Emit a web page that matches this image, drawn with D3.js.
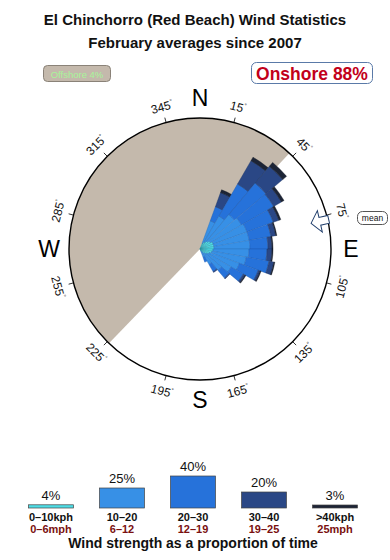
<!DOCTYPE html>
<html>
<head>
<meta charset="utf-8">
<script src="https://cdn.jsdelivr.net/npm/d3@7"></script>
<style>
  body { margin: 0; background: #fff; }
  svg { display: block; font-family: "Liberation Sans", Arial, Helvetica, sans-serif; }
</style>
</head>
<body>
<div id="chart"></div>
<script>
// ===== DATA =====
// direction bins (start bearing, 10 degrees wide)
const dirStarts = [20, 30, 40, 50, 60, 70, 80, 90, 100, 110, 120, 130, 140, 150];
// per-bin share for each speed class (radial units)
const kph0_10  = [0.6, 0.8, 1.0, 1.2, 1.4, 1.4, 1.4, 1.3, 1.2, 1.0, 0.8, 0.6, 0.4, 0.2];
const kph10_20 = [2.4, 3.0, 3.5, 3.6, 3.6, 3.6, 3.6, 3.6, 3.5, 3.2, 2.8, 2.2, 1.4, 0.7];
const kph20_30 = [1.5, 3.7, 4.1, 3.7, 2.8, 2.2, 1.8, 1.8, 2.3, 2.0, 1.4, 1.0, 0.8, 0.5];
const kph30_40 = [1.5, 2.7, 2.2, 0.9, 0.6, 0.5, 0.4, 0.5, 0.5, 0.2, 0.2, 0.1, 0.1, 0.0];
const kph40up  = [0.3, 0.4, 0.5, 0.3, 0.2, 0.1, 0.1, 0.1, 0.1, 0.1, 0.1, 0.0, 0.0, 0.0];
const speedSeries = [kph0_10, kph10_20, kph20_30, kph30_40, kph40up];

const kphLabels = ['0–10kph', '10–20', '20–30', '30–40', '>40kph'];
const mphLabels = ['0–6mph', '6–12', '12–19', '19–25', '25mph'];
const classShares = [4, 25, 40, 20, 3];
const classColors = ['#4fdde6', '#3790e6', '#2672da', '#2a4785', '#1c2436'];
const classStroke = ['#2a8a9a', '#2a70b8', '#1d58ad', '#1d3463', '#10151f'];

const tickAngles = [15, 45, 75, 105, 135, 165, 195, 225, 255, 285, 315, 345];
const compassLabels = ['N', 'E', 'S', 'W'];
const compassAngles = [0, 90, 180, 270];

const offshoreFrom = 224;   // bearing, clockwise to offshoreTo
const offshoreTo = 403;
const meanBearing = 77;
const offshorePct = 4;
const onshorePct = 88;

// ===== LAYOUT =====
const W = 390, H = 560;
const cx = 200, cy = 249, R = 131;
const rad = d => d * Math.PI / 180;

const svg = d3.select('#chart').append('svg')
  .attr('width', W).attr('height', H);
svg.append('rect').attr('width', W).attr('height', H).attr('fill', '#fff');

// titles
svg.append('text').attr('x', 195).attr('y', 25).attr('text-anchor', 'middle')
  .attr('font-size', 15).attr('font-weight', 700).attr('fill', '#111')
  .text('El Chinchorro (Red Beach) Wind Statistics');
svg.append('text').attr('x', 195).attr('y', 48).attr('text-anchor', 'middle')
  .attr('font-size', 15).attr('font-weight', 700).attr('fill', '#111')
  .text('February averages since 2007');

// offshore / onshore badges
svg.append('rect').attr('x', 43.5).attr('y', 65.5).attr('width', 67).attr('height', 16)
  .attr('rx', 4).attr('fill', '#c4b9ac').attr('stroke', '#8a8278');
svg.append('text').attr('x', 77).attr('y', 77.5).attr('text-anchor', 'middle')
  .attr('font-size', 9.5).attr('fill', '#a8f59a').text(`Offshore ${offshorePct}%`);

svg.append('rect').attr('x', 251.5).attr('y', 62.5).attr('width', 121).attr('height', 21)
  .attr('rx', 5).attr('fill', '#fff').attr('stroke', '#5a7aa8');
svg.append('text').attr('x', 312).attr('y', 80).attr('text-anchor', 'middle')
  .attr('font-size', 17.5).attr('font-weight', 700).attr('fill', '#c2001a')
  .text(`Onshore ${onshorePct}%`);

// ===== ROSE =====
const g = svg.append('g').attr('transform', `translate(${cx},${cy})`);

// offshore sector
g.append('path')
  .attr('d', d3.arc()({ innerRadius: 0, outerRadius: R,
    startAngle: rad(offshoreFrom), endAngle: rad(offshoreTo) }))
  .attr('fill', '#c4b9ac');

const rScale = d3.scaleLinear().domain([0, 13.1]).range([0, R]);
const arc = d3.arc();

const segments = [];
dirStarts.forEach((d, i) => {
  let cum = 0;
  speedSeries.forEach((s, k) => {
    const v = s[i];
    if (v > 0) segments.push({ dir: d, k, from: cum, to: cum + v });
    cum += v;
  });
});

g.append('g').selectAll('path')
  .data(segments)
  .join('path')
  .attr('d', d => arc({
    innerRadius: rScale(d.from), outerRadius: rScale(d.to),
    startAngle: rad(d.dir), endAngle: rad(d.dir + 10)
  }))
  .attr('fill', d => classColors[d.k])
  .attr('stroke', d => classStroke[d.k])
  .attr('stroke-width', 0.4);

// outer circle
g.append('circle').attr('r', R).attr('fill', 'none')
  .attr('stroke', '#000').attr('stroke-width', 1.4);

// ticks + degree labels
g.selectAll('line.tick')
  .data(tickAngles)
  .join('line')
  .attr('class', 'tick')
  .attr('x1', a => R * Math.sin(rad(a))).attr('y1', a => -R * Math.cos(rad(a)))
  .attr('x2', a => (R + 5) * Math.sin(rad(a))).attr('y2', a => -(R + 5) * Math.cos(rad(a)))
  .attr('stroke', '#000').attr('stroke-width', 0.8);

const rotFor = a => a <= 90 ? a : (a < 270 ? a - 180 : a - 360);
const lbl = g.selectAll('text.deg')
  .data(tickAngles)
  .join('text')
  .attr('class', 'deg')
  .attr('transform', a => `translate(${147 * Math.sin(rad(a))},${-147 * Math.cos(rad(a))}) rotate(${rotFor(a)})`)
  .attr('text-anchor', 'middle')
  .attr('dy', '0.35em')
  .attr('font-size', 12)
  .attr('fill', '#111');
lbl.append('tspan').text(a => a);
lbl.append('tspan').attr('font-size', 6).attr('dy', '-0.9em').text('°');

// compass letters
g.selectAll('text.cmp')
  .data(compassLabels)
  .join('text')
  .attr('class', 'cmp')
  .attr('x', (t, i) => 151 * Math.sin(rad(compassAngles[i])))
  .attr('y', (t, i) => -151 * Math.cos(rad(compassAngles[i])))
  .attr('dy', '0.36em')
  .attr('text-anchor', 'middle')
  .attr('font-size', 23)
  .attr('fill', '#000')
  .text(t => t);

// mean direction arrow (points toward centre)
const arrowPath = 'M0,-114 L-11,-123 L-4,-123 L-4,-132 L4,-132 L4,-123 L11,-123 Z';
g.append('path')
  .attr('d', arrowPath)
  .attr('transform', `rotate(${meanBearing})`)
  .attr('fill', '#fff').attr('stroke', '#1f3d6b').attr('stroke-width', 1);

svg.append('rect').attr('x', 357.5).attr('y', 211.5).attr('width', 30).attr('height', 13)
  .attr('rx', 5).attr('fill', '#fff').attr('stroke', '#555');
svg.append('text').attr('x', 372.5).attr('y', 221).attr('text-anchor', 'middle')
  .attr('font-size', 8.5).attr('fill', '#111').text('mean');

// ===== LEGEND =====
const legendX = d3.scalePoint().domain(kphLabels).range([51, 335]);
const barH = d3.scaleLinear().domain([0, 40]).range([0, 32]);
const baseY = 508, barW = 45;

const leg = svg.append('g').selectAll('g')
  .data(kphLabels)
  .join('g')
  .attr('transform', d => `translate(${legendX(d)},0)`);

leg.append('rect')
  .attr('x', -barW / 2)
  .attr('y', (d, i) => baseY - Math.max(barH(classShares[i]), 3))
  .attr('width', barW)
  .attr('height', (d, i) => Math.max(barH(classShares[i]), 3))
  .attr('fill', (d, i) => classColors[i])
  .attr('stroke', '#444').attr('stroke-width', 0.7);

leg.append('text')
  .attr('y', (d, i) => baseY - Math.max(barH(classShares[i]), 3) - 5)
  .attr('text-anchor', 'middle').attr('font-size', 13).attr('fill', '#111')
  .text((d, i) => classShares[i] + '%');

leg.append('text')
  .attr('y', 521).attr('text-anchor', 'middle')
  .attr('font-size', 11).attr('font-weight', 700).attr('fill', '#111')
  .text(d => d);

leg.append('text')
  .attr('y', 532.5).attr('text-anchor', 'middle')
  .attr('font-size', 11).attr('font-weight', 700).attr('fill', '#7a1010')
  .text((d, i) => mphLabels[i]);

svg.append('text').attr('x', 193).attr('y', 548).attr('text-anchor', 'middle')
  .attr('font-size', 14).attr('font-weight', 700).attr('fill', '#111')
  .text('Wind strength as a proportion of time');
</script>
</body>
</html>
